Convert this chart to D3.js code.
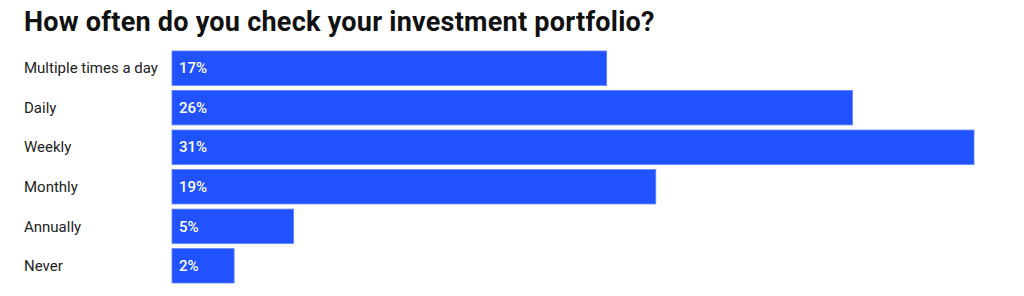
<!DOCTYPE html>
<meta charset="utf-8">
<title>How often do you check your investment portfolio?</title>
<style>
body { margin: 0; background: #fff; font-family: 'Roboto', sans-serif; }
svg { display: block; }
.title { font-size: 27px; font-weight: 700; letter-spacing: 0.25px; fill: #111; }
.cat { font-size: 15px; fill: #222; }
.val { font-size: 15px; font-weight: 500; fill: #fff; }
.bar { fill: #2053ff; stroke: #5c82ff; stroke-width: 0.8; }
</style>
<svg id="chart" width="1024" height="296"></svg>
<script src="https://d3js.org/d3.v7.min.js"></script>
<script>
// answers, share of respondents in percent
var categories = ["Multiple times a day", "Daily", "Weekly", "Monthly", "Annually", "Never"];
var values = [16.8, 26.3, 31, 18.7, 4.7, 2.4];
var labels = ["17%", "26%", "31%", "19%", "5%", "2%"];

var data = categories.map(function(c, i) { return { cat: c, value: values[i], label: labels[i] }; });

var svg = d3.select("#chart");

svg.append("text")
  .attr("class", "title")
  .attr("x", 24)
  .attr("y", 31)
  .text("How often do you check your investment portfolio?");

var x = d3.scaleLinear().domain([0, 31]).range([172, 974]);
var y = d3.scaleBand().domain(categories).range([51, 283]).paddingInner(0.13);

var row = svg.selectAll(".row")
  .data(data)
  .enter().append("g")
  .attr("class", "row");

row.append("rect")
  .attr("class", "bar")
  .attr("x", x(0))
  .attr("y", function(d) { return y(d.cat); })
  .attr("width", function(d) { return x(d.value) - x(0); })
  .attr("height", y.bandwidth());

row.append("text")
  .attr("class", "cat")
  .attr("x", 24)
  .attr("y", function(d) { return y(d.cat) + y.bandwidth() / 2; })
  .attr("dy", "0.35em")
  .text(function(d) { return d.cat; });

row.append("text")
  .attr("class", "val")
  .attr("x", x(0) + 7)
  .attr("y", function(d) { return y(d.cat) + y.bandwidth() / 2; })
  .attr("dy", "0.35em")
  .text(function(d) { return d.label; });
</script>
